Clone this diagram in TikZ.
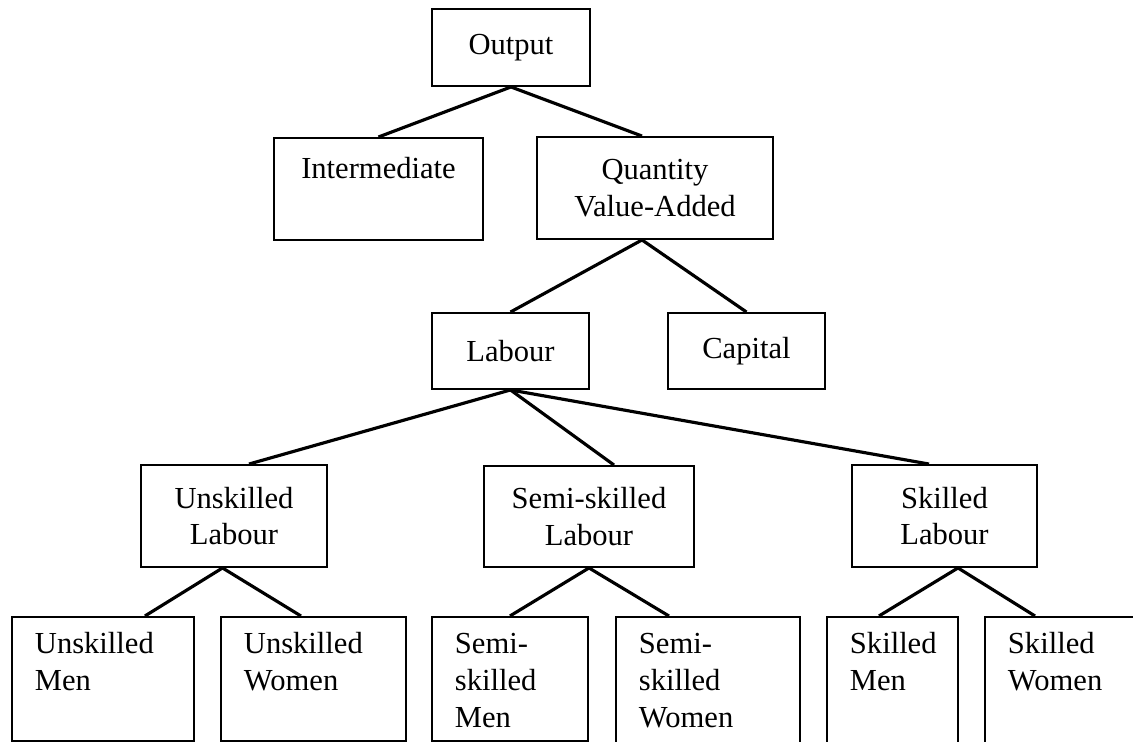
\documentclass[tikz,border=0pt]{standalone}
\usepackage{fontspec}
\setmainfont{Liberation Serif}
\usetikzlibrary{calc}

\begin{document}
\begin{tikzpicture}[x=0.02cm,y=-0.02cm]
\tikzset{
  box/.style={draw,line width=1.1pt,font=\fontsize{17.4pt}{21pt}\selectfont,align=center,inner sep=0pt},
  leaf/.style={box,anchor=north west,align=left,inner xsep=0.46cm,inner ysep=0pt,text height=0.74cm,text depth=1.74cm,text width=#1},
  link/.style={line width=1.8pt}
}
\useasboundingbox (0,0) rectangle (1133,742);
\clip (0,0) rectangle (1133,742);
% top levels
\node[box,minimum width=3.16cm,minimum height=1.54cm] (n_out) at (511,47.5) {Output};
\node[box,anchor=north,minimum width=4.18cm,text height=0.82cm,text depth=1.22cm] (n_inter) at (378.5,137) {Intermediate};
\node[box,minimum width=4.72cm,minimum height=2.04cm] (n_qva) at (655,188) {Quantity\\Value-Added};
\node[box,minimum width=3.14cm,minimum height=1.52cm] (n_lab) at (510.5,351) {Labour};
\node[box,minimum width=3.14cm,minimum height=1.52cm] (n_cap) at (746.5,351) {Capital};
% labour types
\node[box,minimum width=3.72cm,minimum height=2.04cm] (n_ul) at (234,516) {Unskilled\\Labour};
\node[box,minimum width=4.20cm,minimum height=2.02cm] (n_sl) at (589,516.5) {Semi-skilled\\Labour};
\node[box,minimum width=3.70cm,minimum height=2.04cm] (n_kl) at (944.5,516) {Skilled\\Labour};
% men and women
\node[leaf=2.72cm] (n_um) at (11,616) {Unskilled\\Men};
\node[leaf=2.78cm] (n_uw) at (220,616) {Unskilled\\Women};
\node[leaf=2.20cm] (n_sm) at (431,616) {Semi-\\skilled\\Men};
\node[leaf=2.76cm,text depth=1.90cm] (n_sw) at (615,616) {Semi-\\skilled\\Women};
\node[leaf=1.70cm,text depth=1.90cm] (n_km) at (826,616) {Skilled\\Men};
\node[leaf=2.60cm,text depth=1.90cm] (n_kw) at (984,616) {Skilled\\Women};
\draw[link] (n_out.south) -- (n_inter.north);
\draw[link] (n_out.south) -- ($(n_qva.north)+(-13,0)$);
\draw[link] ($(n_qva.south)+(-13,0)$) -- (n_lab.north);
\draw[link] ($(n_qva.south)+(-13,0)$) -- (n_cap.north);
\draw[link] (n_lab.south) -- ($(n_ul.north)+(15,0)$);
\draw[link] (n_lab.south) -- ($(n_sl.north)+(25,0)$);
\draw[link] (n_lab.south) -- ($(n_kl.north)+(-15.5,0)$);
\draw[link] ($(n_ul.south)+(-11.5,0)$) -- ($(n_um.north)+(42,0)$);
\draw[link] ($(n_ul.south)+(-11.5,0)$) -- ($(n_uw.north)+(-12.5,0)$);
\draw[link] (n_sl.south) -- (n_sm.north);
\draw[link] (n_sl.south) -- ($(n_sw.north)+(-39,0)$);
\draw[link] ($(n_kl.south)+(13.5,0)$) -- ($(n_km.north)+(-13.5,0)$);
\draw[link] ($(n_kl.south)+(13.5,0)$) -- ($(n_kw.north west)+(51,0)$);
\end{tikzpicture}
\end{document}
